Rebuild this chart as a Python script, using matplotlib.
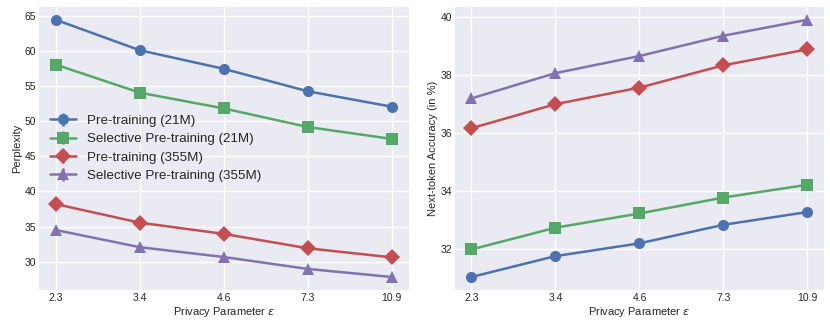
import numpy as np
import matplotlib.pyplot as plt

plt.style.use('seaborn-v0_8')

# --- Data ---
eps_labels = ['2.3', '3.4', '4.6', '7.3', '10.9']

ppl_pt_21m = [64.5, 60.15, 57.5, 54.3, 52.1]
ppl_spt_21m = [58.1, 54.1, 51.85, 49.2, 47.5]
ppl_pt_355m = [38.2, 35.55, 33.95, 31.9, 30.6]
ppl_spt_355m = [34.5, 32.05, 30.65, 28.95, 27.8]

acc_pt_21m = [31.04, 31.76, 32.2, 32.84, 33.28]
acc_spt_21m = [31.99, 32.74, 33.23, 33.78, 34.22]
acc_pt_355m = [36.17, 37.0, 37.57, 38.34, 38.89]
acc_spt_355m = [37.2, 38.07, 38.66, 39.36, 39.91]

labels = ['Pre-training (21M)', 'Selective Pre-training (21M)',
          'Pre-training (355M)', 'Selective Pre-training (355M)']
markers = ['o', 's', 'D', '^']
colors = ['#4C72B0', '#55A868', '#C44E52', '#8172B2']

x = np.arange(len(eps_labels))

fig, (ax1, ax2) = plt.subplots(1, 2, figsize=(8.3, 3.29), dpi=100)

for ax, series in zip([ax1, ax2],
                      [[ppl_pt_21m, ppl_spt_21m, ppl_pt_355m, ppl_spt_355m],
                       [acc_pt_21m, acc_spt_21m, acc_pt_355m, acc_spt_355m]]):
    for y, lab, m, c in zip(series, labels, markers, colors):
        ax.errorbar(x, y, yerr=np.zeros(len(y)), marker=m, color=c,
                    label=lab, markersize=8, linewidth=1.8)
    ax.set_xticks(x)
    ax.set_xticklabels(eps_labels)
    ax.set_xlabel(r'Privacy Parameter $\epsilon$', fontsize=8, labelpad=2)
    ax.tick_params(labelsize=7.5, pad=2)

ax1.set_ylabel('Perplexity', fontsize=8, labelpad=2)
ax2.set_ylabel('Next-token Accuracy (in %)', fontsize=8, labelpad=2)
ax1.set_yticks([30, 35, 40, 45, 50, 55, 60, 65])
ax2.set_yticks([32, 34, 36, 38, 40])

ax1.legend(loc='center left', fontsize=9.6, handlelength=2.0,
           borderaxespad=0.4, labelspacing=0.45)

fig.subplots_adjust(left=0.047, right=0.993, bottom=0.119, top=0.979,
                    wspace=0.125)
fig.savefig('out.png', dpi=100)
